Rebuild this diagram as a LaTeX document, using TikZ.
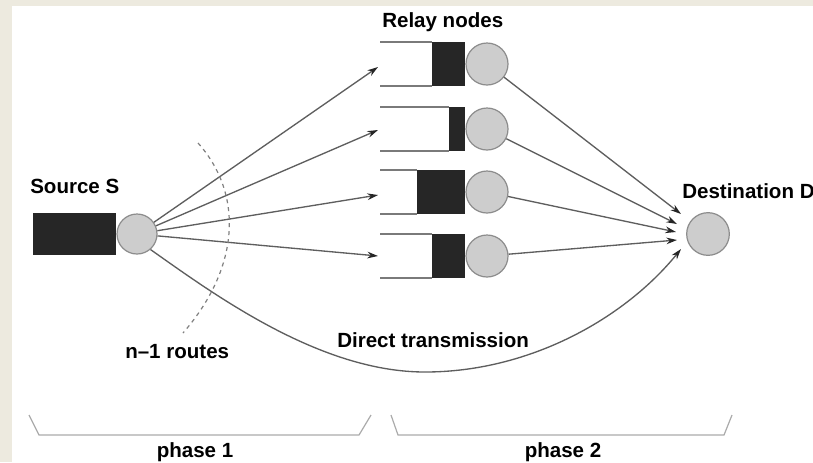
\documentclass[tikz,border=0pt]{standalone}
\usepackage{fontspec}
\setmainfont{Liberation Sans}
\usetikzlibrary{arrows.meta}
\definecolor{pagebg}{HTML}{EDEADF}
\definecolor{queuefill}{HTML}{262626}
\definecolor{stationfill}{HTML}{CDCDCD}
\definecolor{stationline}{HTML}{8C8C8C}
\definecolor{linkline}{HTML}{5E5E5E}
\definecolor{bufline}{HTML}{7A7A7A}
\definecolor{phaseline}{HTML}{ABABAB}
\begin{document}
\begin{tikzpicture}[x=0.75pt,y=-0.75pt,
  lbl/.style={font=\fontsize{15.4}{18}\selectfont\bfseries, inner sep=0pt},
  station/.style={circle, draw=stationline, fill=stationfill, line width=0.9pt,
                  minimum size=30pt, inner sep=0pt},
  relaystation/.style={station, minimum size=31.5pt},
  link/.style={draw=linkline, line width=1pt,
               -{Stealth[length=8pt, width=5pt, color=black!85]}},
  buffer/.style={draw=bufline, line width=0.9pt},
  queue/.style={fill=queuefill},
  phase/.style={draw=phaseline, line width=0.9pt},
  routes/.style={draw=black!50, line width=0.9pt, dash pattern=on 3pt off 3pt}]
\useasboundingbox (0,0) rectangle (813,462);
% page and margin
\fill[pagebg] (0,0) rectangle (813,462);
\fill[white] (12,6) rectangle (813,462);

% source with its full queue
\fill[queue] (33,213) rectangle (116,255);
\node[station] (s) at (137,234) {};
\node[lbl, anchor=base west] (slbl) at (30,193) {Source S};

% relay nodes: buffer outline, filled part, server
\foreach \i/\yc/\qx in {1/64/432, 2/129/449, 3/192/417, 4/256/432}{
  \draw[buffer] (380,\yc-22) -- (\qx,\yc-22);
  \draw[buffer] (380,\yc+22) -- (\qx,\yc+22);
  \fill[queue] (\qx,\yc-22) rectangle (465,\yc+22);
  \node[relaystation] (r\i) at (487,\yc) {};
}
\node[lbl, anchor=base west] (rlbl) at (382,27) {Relay nodes};

% destination
\node[station, minimum size=32pt] (d) at (708,234) {};
\node[lbl, anchor=base west] (dlbl) at (682,198) {Destination D};

% arrow tips in front of the relay buffers
\coordinate (t1) at (378,67);
\coordinate (t2) at (378,130);
\coordinate (t3) at (378,195);
\coordinate (t4) at (378,256);
% arrow tips in front of the destination
\coordinate (e1) at (681,214);
\coordinate (e2) at (677,224);
\coordinate (e3) at (676,232);
\coordinate (e4) at (677,240);
\coordinate (e5) at (681,249);

% phase 1: source to relays
\foreach \i in {1,...,4}{ \draw[link] (s) -- (t\i); }
% phase 2: relays to destination
\foreach \i in {1,...,4}{ \draw[link] (r\i) -- (e\i); }
% direct transmission
\coordinate (low) at (425,372);
\draw[link] (s.-49) .. controls (215,295) and (320,372) .. (low)
            .. controls (530,372) and (625,318) .. (e5);
\node[lbl, anchor=base west] (dtl) at (337,347) {Direct transmission};

% cut through the n-1 routes
\draw[routes] (198,143) .. controls (242,192) and (242,265) .. (183,333);
\node[lbl, anchor=base west] (nlbl) at (125,358) {n–1 routes};

% phase brackets
\draw[phase] (29,415) -- (39,435) -- (359,435) -- (371,415);
\draw[phase] (391,415) -- (398,435) -- (724,435) -- (732,415);
\node[lbl, anchor=base] (p1) at (195,457) {phase 1};
\node[lbl, anchor=base] (p2) at (563,457) {phase 2};
\end{tikzpicture}
\end{document}
